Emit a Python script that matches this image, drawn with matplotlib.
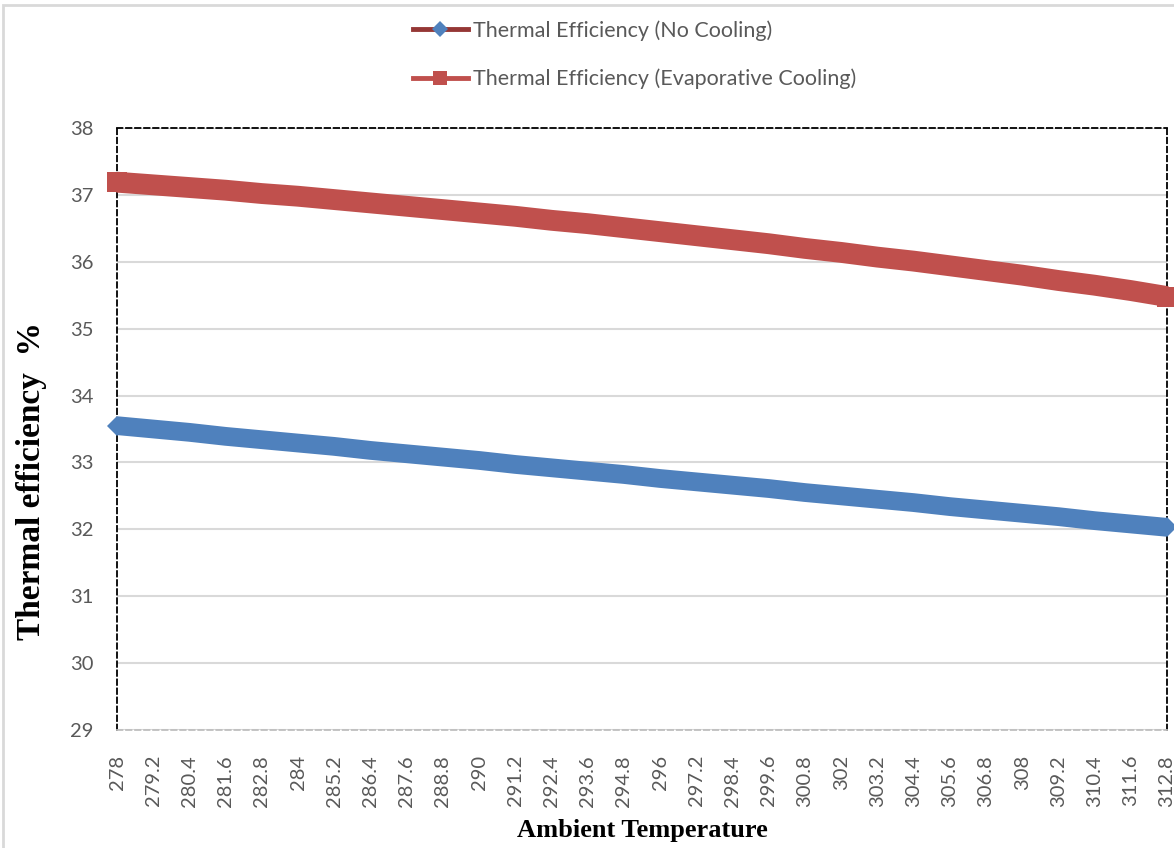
import matplotlib.pyplot as plt
from matplotlib.lines import Line2D
from matplotlib.patches import Rectangle

# data (values at the labelled temperatures)
temps = [278, 279.2, 280.4, 281.6, 282.8, 284, 285.2, 286.4, 287.6, 288.8,
         290, 291.2, 292.4, 293.6, 294.8, 296, 297.2, 298.4, 299.6, 300.8,
         302, 303.2, 304.4, 305.6, 306.8, 308, 309.2, 310.4, 311.6, 312.8]
tick_labels = ['278', '279.2', '280.4', '281.6', '282.8', '284', '285.2', '286.4',
               '287.6', '288.8', '290', '291.2', '292.4', '293.6', '294.8', '296',
               '297.2', '298.4', '299.6', '300.8', '302', '303.2', '304.4', '305.6',
               '306.8', '308', '309.2', '310.4', '311.6', '312.8']
eff_no_cooling = [33.55, 33.50, 33.45, 33.39, 33.34, 33.29, 33.24, 33.18, 33.13, 33.08,
                  33.03, 32.97, 32.92, 32.87, 32.82, 32.76, 32.71, 32.66, 32.61, 32.55,
                  32.50, 32.45, 32.40, 32.34, 32.29, 32.24, 32.19, 32.13, 32.08, 32.03]
eff_evap = [37.19, 37.15, 37.11, 37.07, 37.02, 36.98, 36.93, 36.88, 36.83, 36.78,
            36.73, 36.68, 36.62, 36.57, 36.51, 36.45, 36.39, 36.33, 36.27, 36.20,
            36.14, 36.07, 36.01, 35.94, 35.87, 35.80, 35.72, 35.65, 35.57, 35.48]

blue = '#4f81bd'
red = '#c0504d'
dark_red = '#953735'
gray_txt = '#595959'

plt.rcParams['font.family'] = ['Lato', 'DejaVu Sans']

fig = plt.figure(figsize=(11.74, 8.48), dpi=100)
ax = fig.add_axes([117/1174, 1-730/848, 1050/1174, 602/848])

# outer chart border (light gray)
fig.patches.append(Rectangle((3/1174, -0.1), 1.2, 1.1 - 5.5/848, transform=fig.transFigure,
                             fill=False, edgecolor='#d9d9d9', linewidth=2))

# dense markers look like a thick band, marker only shown at the ends
ax.plot(temps, eff_evap, color=red, linewidth=15, solid_capstyle='butt',
        marker='s', markersize=14.5, markeredgewidth=0, markevery=[0, -1],
        clip_on=False, zorder=3)
ax.plot(temps, eff_no_cooling, color=blue, linewidth=13.5, solid_capstyle='butt',
        marker='D', markersize=10, markeredgewidth=0, markevery=[0, -1],
        clip_on=False, zorder=3)

ax.set_xlim(278, 312.8)
ax.set_ylim(29, 38)
ax.set_yticks(range(29, 39))
ax.set_xticks(temps)
ax.set_xticklabels(tick_labels, rotation=90, va='top')
ax.tick_params(axis='both', length=0, labelsize=14.5, labelcolor=gray_txt)
ax.tick_params(axis='y', pad=17)
ax.tick_params(axis='x', pad=18)

ax.grid(axis='y', color='#d9d9d9', linewidth=1.5, zorder=0)
ax.set_axisbelow(True)

for side in ['left', 'top', 'right']:
    ax.spines[side].set_linestyle((0, (3, 2)))
    ax.spines[side].set_linewidth(1.3)
    ax.spines[side].set_color('black')
ax.spines['bottom'].set_linestyle((0, (3, 2)))
ax.spines['bottom'].set_color('#bfbfbf')
ax.spines['bottom'].set_linewidth(1.3)

ax.set_xlabel('Ambient Temperature', family='Liberation Serif', fontweight='bold',
              fontsize=19, labelpad=9)
ax.set_ylabel('Thermal efficiency  %', family='Liberation Serif', fontweight='bold',
              fontsize=24)
ax.yaxis.set_label_coords(-(117 - 47) / 1050, 0.413)

handles = [
    Line2D([], [], color=dark_red, linewidth=3.5, marker='D', markersize=8,
           markerfacecolor=blue, markeredgewidth=0),
    Line2D([], [], color=red, linewidth=3.5, marker='s', markersize=10,
           markerfacecolor=red, markeredgewidth=0),
]
fig.legend(handles, ['Thermal Efficiency (No Cooling)', 'Thermal Efficiency (Evaporative Cooling)'],
           loc='upper left', bbox_to_anchor=(413/1174, 1 - 20/848), frameon=False, fontsize=15.5,
           labelcolor=gray_txt, handlelength=2.55, handletextpad=0.25, labelspacing=1.3,
           borderpad=0, borderaxespad=0)

fig.savefig('out.png', dpi=100)
